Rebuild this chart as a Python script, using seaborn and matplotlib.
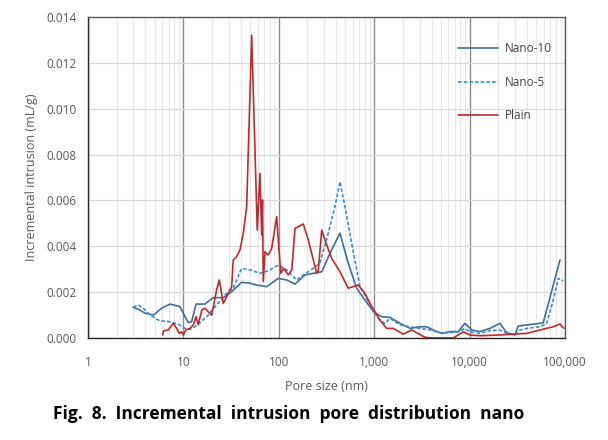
import numpy as np
import pandas as pd
import matplotlib
matplotlib.use('Agg')
import matplotlib.pyplot as plt
import matplotlib.ticker as mticker
import seaborn as sns

# pore size (nm) and incremental intrusion (mL/g)
nano10_size = [2.98, 3.37, 3.96, 4.84, 5.92, 7.24, 9.21, 10.4, 11.3, 12.2, 13.6, 16.8, 20.6, 26.2,
               32.1, 40.8, 49.9, 58.7, 74.7, 98.8, 121, 148, 188, 250, 282, 344, 438, 535, 655,
               801, 979, 1198, 1464, 1864, 2373, 3021, 3551, 4165, 5100, 6231, 7611, 8950, 10520,
               12850, 16360, 20830, 24480, 29920, 32390, 39680, 48480, 59230, 88640]
nano10_val = [0.00134, 0.00125, 0.00108, 0.00100, 0.00130, 0.00148, 0.00137, 0.00093, 0.00067,
              0.00071, 0.00148, 0.00148, 0.00176, 0.00176, 0.00202, 0.00243, 0.00239, 0.00231,
              0.00224, 0.00260, 0.00253, 0.00235, 0.00275, 0.00285, 0.00289, 0.00369, 0.00457,
              0.00326, 0.00217, 0.00166, 0.00115, 0.00093, 0.00090, 0.00064, 0.00042, 0.00049,
              0.00049, 0.00035, 0.00020, 0.00028, 0.00028, 0.00064, 0.00035, 0.00028, 0.00042,
              0.00064, 0.00023, 0.00013, 0.00052, 0.00057, 0.00061, 0.00067, 0.00340]

nano5_size = [2.98, 3.37, 3.80, 4.29, 5.04, 5.68, 7.24, 9.21, 10.4, 11.7, 13.2, 14.9, 18.2, 22.3,
              28.4, 33.3, 40.8, 49.9, 63.5, 77.6, 98.8, 121, 154, 181, 230, 270, 330, 388, 438,
              494, 581, 710, 834, 979, 1150, 1298, 1464, 1864, 2373, 3021, 3845, 4895, 6231,
              7611, 8950, 10100, 12850, 16360, 20830, 24480, 29920, 33750, 39680, 54700, 64300,
              75400, 85100, 96000]
nano5_val = [0.00134, 0.00144, 0.00130, 0.00108, 0.00086, 0.00075, 0.00071, 0.00057, 0.00042,
             0.00038, 0.00049, 0.00067, 0.00100, 0.00144, 0.00195, 0.00217, 0.00304, 0.00297,
             0.00282, 0.00293, 0.00318, 0.00297, 0.00253, 0.00275, 0.00304, 0.00326, 0.00457,
             0.00573, 0.00682, 0.00573, 0.00413, 0.00224, 0.00173, 0.00115, 0.00078, 0.00064,
             0.00086, 0.00057, 0.00049, 0.00042, 0.00035, 0.00023, 0.00023, 0.00027, 0.00042,
             0.00027, 0.00020, 0.00032, 0.00035, 0.00020, 0.00017, 0.00035, 0.00042, 0.00049,
             0.00064, 0.00166, 0.00260, 0.00250]

plain_size = [6.07, 6.2, 6.95, 7.84, 8.51, 9.06, 9.60, 9.98, 10.6, 11.7, 12.7, 13.6, 14.3, 15.6,
              16.8, 18.2, 19.8, 22.3, 23.8, 26.2, 29.6, 32.1, 33.3, 36.2, 39.2, 42.5, 46.1, 52.0,
              59.5, 63.5, 66.2, 67.5, 68.8, 71.7, 77.6, 84.3, 95.1, 98.8, 105, 112, 126, 137, 148,
              181, 204, 250, 259, 282, 305, 358, 438, 535, 604, 681, 801, 904, 1020, 1150, 1352,
              1586, 2018, 2473, 2790, 3408, 4165, 5300, 6750, 8590, 10100, 12850, 20830, 28710,
              39680, 54700, 75400, 88640, 97600]
plain_val = [0.00013, 0.00031, 0.00035, 0.00064, 0.00042, 0.00020, 0.00027, 0.00013, 0.00035,
             0.00042, 0.00057, 0.00093, 0.00057, 0.00122, 0.00130, 0.00115, 0.00100, 0.00209,
             0.00253, 0.00151, 0.00195, 0.00224, 0.00340, 0.00355, 0.00384, 0.00457, 0.00573,
             0.01321, 0.00471, 0.00718, 0.00449, 0.00602, 0.00246, 0.00376, 0.00362, 0.00391,
             0.00529, 0.00427, 0.00282, 0.00304, 0.00275, 0.00297, 0.00478, 0.00497, 0.00427,
             0.00282, 0.00289, 0.00471, 0.00427, 0.00348, 0.00289, 0.00217, 0.00224, 0.00231,
             0.00195, 0.00151, 0.00115, 0.00078, 0.00042, 0.00042, 0.00017, 0.00035, 0.00023,
             0.00003, 0.00000, 0.00000, 0.00000, 0.00027, 0.00013, 0.00010, 0.00013, 0.00017,
             0.00020, 0.00035, 0.00049, 0.00061, 0.00042]

data = pd.concat([
    pd.DataFrame({'size': nano10_size, 'val': nano10_val, 'mix': 'Nano-10'}),
    pd.DataFrame({'size': nano5_size, 'val': nano5_val, 'mix': 'Nano-5'}),
    pd.DataFrame({'size': plain_size, 'val': plain_val, 'mix': 'Plain'}),
], ignore_index=True)

sns.set_style('white')
plt.rcParams['font.family'] = ['Open Sans', 'DejaVu Sans']

fig = plt.figure(figsize=(6.08, 4.40), dpi=100)
ax = fig.add_axes([0.1447, 0.2318, 0.7845, 0.7296])

palette = {'Nano-10': '#3f6f9a', 'Nano-5': '#3b8ccc', 'Plain': '#c2272d'}
dashes = {'Nano-10': '', 'Nano-5': (2.2, 1.2), 'Plain': ''}
sns.lineplot(data=data, x='size', y='val', hue='mix', style='mix', palette=palette,
             dashes=dashes, estimator=None, sort=False, linewidth=1.2, ax=ax)

ax.set_xscale('log')
ax.set_xlim(1, 100000)
ax.set_ylim(0, 0.014)
ax.yaxis.set_major_locator(mticker.MultipleLocator(0.002))
ax.yaxis.set_major_formatter(mticker.FormatStrFormatter('%.3f'))
ax.xaxis.set_major_locator(mticker.LogLocator(base=10, numticks=10))
ax.xaxis.set_minor_locator(mticker.LogLocator(base=10, subs=np.arange(2, 10), numticks=20))
ax.xaxis.set_major_formatter(mticker.FuncFormatter(lambda v, p: f'{v:,.0f}'))
ax.xaxis.set_minor_formatter(mticker.NullFormatter())

ax.grid(True, axis='y', color='#d9d9d9', linewidth=0.9)
ax.grid(True, axis='x', which='major', color='#8c8c8c', linewidth=1.0)
ax.grid(True, axis='x', which='minor', color='#e8e8e8', linewidth=0.8)
ax.set_axisbelow(True)

for side in ['left', 'bottom']:
    ax.spines[side].set_color('#262626')
    ax.spines[side].set_linewidth(1.0)
for side in ['top', 'right']:
    ax.spines[side].set_color('#595959')
    ax.spines[side].set_linewidth(1.0)

ax.tick_params(axis='both', which='major', direction='out', length=5, width=1,
               color='#262626', labelsize=8.5, labelcolor='#595959')
ax.tick_params(axis='x', which='minor', length=0)
ax.tick_params(axis='x', pad=8)

ax.set_xlabel('Pore size (nm)', fontsize=9, color='#595959', labelpad=8)
ax.set_ylabel('Incremental intrusion (mL/g)', fontsize=9, color='#595959', labelpad=6)

ax.legend(title=None, frameon=False, loc='upper right', bbox_to_anchor=(0.995, 0.955),
          fontsize=8.5, labelcolor='#404040', handlelength=3.4, labelspacing=1.75,
          handletextpad=0.6)

fig.text(0.475, 0.06, 'Fig.  8.  Incremental  intrusion  pore  distribution  nano',
         ha='center', va='center', fontsize=12.5, fontweight='bold', color='black')

fig.savefig('out.png', dpi=100)
